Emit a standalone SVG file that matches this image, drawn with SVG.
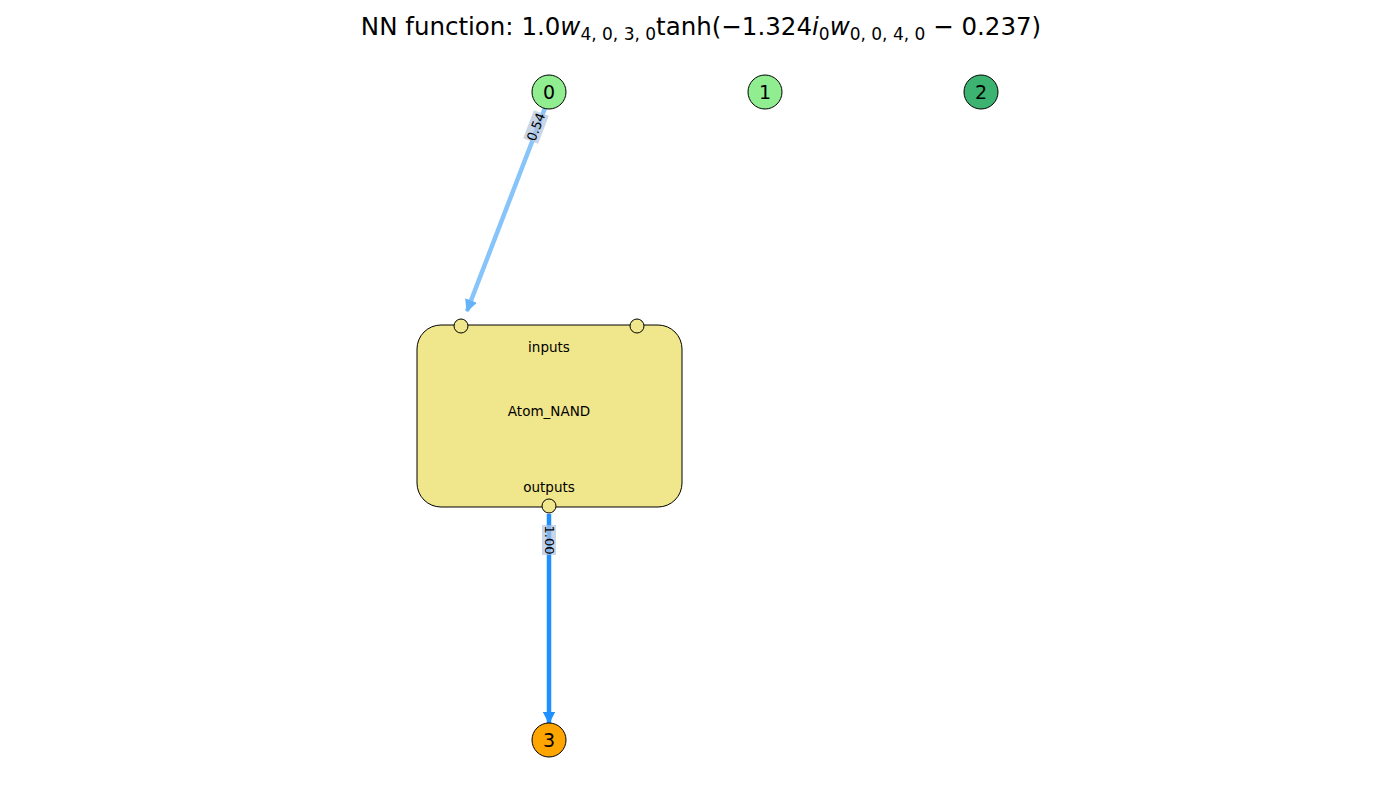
<svg xmlns="http://www.w3.org/2000/svg" width="1400" height="800" viewBox="0 0 1400 800">
<style>
text{font-family:"DejaVu Sans","Liberation Sans",sans-serif;fill:#000}
.node circle{stroke:#000;stroke-width:1}
.nl{font-size:19px;text-anchor:middle;dominant-baseline:central}
.bl{font-size:13.5px;text-anchor:middle}
.port{fill:#f0e68c;stroke:#000;stroke-width:1}
.el{font-size:13px;text-anchor:middle;dominant-baseline:central}
.it{font-style:italic}
</style>
<defs>
<marker id="ahA" viewBox="0 0 10 10" refX="9" refY="5" markerWidth="2.8" markerHeight="2.8" orient="auto" markerUnits="strokeWidth">
<path d="M0,0 L10,5 L0,10 z" fill="#66b3fa"/>
</marker>
<marker id="ahB" viewBox="0 0 10 10" refX="9" refY="5" markerWidth="2.8" markerHeight="2.8" orient="auto" markerUnits="strokeWidth">
<path d="M0,0 L10,5 L0,10 z" fill="#1e90ff"/>
</marker>
</defs>
<rect width="1400" height="800" fill="#fff"/>
<text x="701" y="35" font-size="24.5" text-anchor="middle">NN function: 1.0<tspan class="it">w</tspan><tspan font-size="17" dy="5">4, 0, 3, 0</tspan><tspan dy="-5">tanh(−1.324</tspan><tspan class="it">i</tspan><tspan font-size="17" dy="5">0</tspan><tspan class="it" dy="-5">w</tspan><tspan font-size="17" dy="5">0, 0, 4, 0</tspan><tspan dy="-5"> − 0.237)</tspan></text>
<g id="connectors">
<g id="e0">
<line x1="545" y1="108" x2="467" y2="311" stroke="#87c4fa" stroke-width="4.5" marker-end="url(#ahA)"/>
<g transform="translate(536,127) rotate(-69)">
<rect x="-15" y="-8" width="30" height="16" fill="#b0c4de" fill-opacity="0.7"/>
<text class="el" x="0" y="0">0.54</text>
</g>
</g>
<g id="e1">
<line x1="549" y1="514" x2="549" y2="723" stroke="#1e90ff" stroke-width="4.5" marker-end="url(#ahB)"/>
<g transform="translate(549,540) rotate(90)">
<rect x="-15" y="-7" width="30" height="14" fill="#b0c4de" fill-opacity="0.7"/>
<text class="el" x="0" y="0">1.00</text>
</g>
</g>
</g>
<g id="node0" class="node"><circle cx="549" cy="92" r="17" fill="#90ee90"/><text class="nl" x="549" y="92">0</text></g>
<g id="node1" class="node"><circle cx="765" cy="92" r="17" fill="#90ee90"/><text class="nl" x="765" y="92">1</text></g>
<g id="node2" class="node"><circle cx="981" cy="92" r="17" fill="#3cb371"/><text class="nl" x="981" y="92">2</text></g>
<g id="node3" class="node"><circle cx="549" cy="740" r="17" fill="#ffa500"/><text class="nl" x="549" y="740">3</text></g>
<g id="atom">
<rect x="417" y="325" width="265" height="182" rx="24" ry="24" fill="#f0e68c" stroke="#000" stroke-width="1"/>
<text class="bl" x="549" y="352">inputs</text>
<text class="bl" x="549" y="416">Atom_NAND</text>
<text class="bl" x="549" y="492">outputs</text>
<circle class="port" cx="461" cy="326" r="7"/>
<circle class="port" cx="637" cy="326" r="7"/>
<circle class="port" cx="549" cy="506" r="7"/>
</g>
</svg>
